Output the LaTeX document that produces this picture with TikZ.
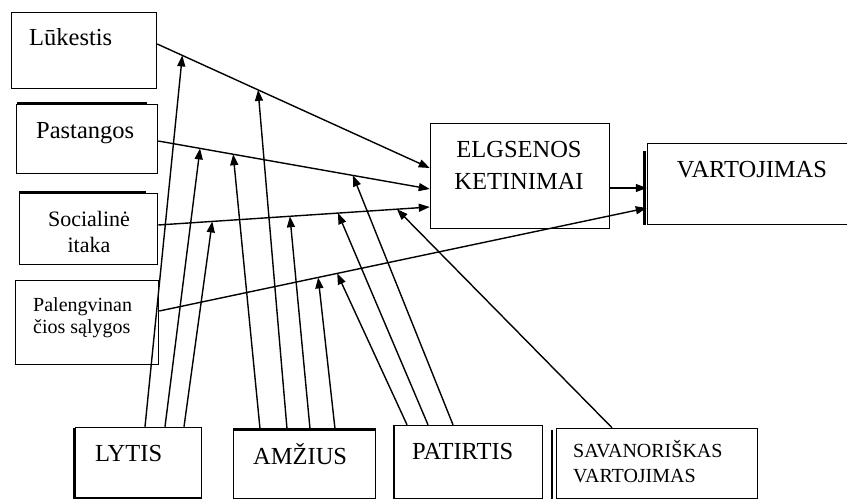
\documentclass[tikz,border=0pt]{standalone}
\usepackage{fontspec}
\setmainfont{Liberation Serif}
\usetikzlibrary{arrows.meta,calc}
\begin{document}
\begin{tikzpicture}[x=1pt,y=-1pt,
  box/.style 2 args={draw, line width=1.5pt, inner sep=0pt, minimum width=#1, minimum height=#2},
  shade/.style={line width=2.6pt},
  arr/.style={line width=1.4pt, -{Triangle[length=11pt,width=8pt]}},
  big/.style={font=\fontsize{24.5}{28}\selectfont, inner sep=0pt},
  mid/.style={font=\fontsize{22}{26}\selectfont, inner sep=0pt},
  small/.style={font=\fontsize{20}{24}\selectfont, inner sep=0pt}
]
\useasboundingbox (0,0) rectangle (847,499);

% factor boxes on the left
\node[box={145pt}{76pt}] (luk) at (84,50.5) {};
\node[box={141pt}{69pt}] (pas) at (87,139) {};
\node[box={138pt}{71pt}] (soc) at (88.5,229) {};
\node[box={143pt}{84pt}] (pal) at (87,322.5) {};
% intention and use
\node[box={179pt}{105pt}] (elg) at (520,176) {};
\node[box={209pt}{81pt}] (vart) at (752,184) {};
% moderators along the bottom
\node[box={126pt}{70pt}] (lyt) at (138.5,462.5) {};
\node[box={142pt}{69pt}] (amz) at (304.5,464) {};
\node[box={149pt}{73pt}] (pat) at (468,462) {};
\node[box={201pt}{70pt}] (sav) at (657,463.5) {};

% heavier edges drawn next to some boxes
\draw[shade] (17,103) -- (147,103);
\draw[shade] (19,192.2) -- (146,192.2);
\draw[line width=3.5pt] (644.5,151) -- (644.5,225);
\draw[shade] (74,428) -- (74,499);
\draw[shade] (75,498) -- (202,498);
\draw[shade] (233,429.5) -- (376,429.5);
\draw[shade] (394,426) -- (394,499);
\draw[shade] (552,430) -- (552,499);

% labels
\node[big, anchor=base west] (tluk) at (29,45) {Lūkestis};
\node[big, anchor=base west] (tpas) at (36,138) {Pastangos};
\node[mid, anchor=base] (tsoc1) at (89,226) {Socialinė};
\node[mid, anchor=base] (tsoc2) at (89,252) {itaka};
\node[small, anchor=base west] (tpal1) at (33,311) {Palengvinan};
\node[small, anchor=base west] (tpal2) at (33,333) {čios sąlygos};
\node[big, anchor=base] (telg1) at (519,157) {ELGSENOS};
\node[big, anchor=base] (telg2) at (519,189) {KETINIMAI};
\node[big, anchor=base] (tvart) at (752,177) {VARTOJIMAS};
\node[big, anchor=base west] (tlyt) at (95,461) {LYTIS};
\node[big, anchor=base west] (tamz) at (253,464) {AMŽIUS};
\node[big, anchor=base west] (tpat) at (412,459) {PATIRTIS};
\node[small, anchor=base west] (tsav1) at (573,457) {SAVANORIŠKAS};
\node[small, anchor=base west] (tsav2) at (573,482) {VARTOJIMAS};

% end points of the main paths
\coordinate (lukS) at ([yshift=6.5pt]luk.east);
\coordinate (lukE) at ([yshift=8pt]elg.west);
\coordinate (pasS) at ([yshift=-2pt]pas.east);
\coordinate (pasE) at ([yshift=-13pt]elg.west);
\coordinate (socS) at ([yshift=4pt]soc.east);
\coordinate (socE) at ([yshift=-31pt]elg.west);
\coordinate (palS) at ([yshift=11.5pt]pal.east);
\coordinate (palE) at ([yshift=-24pt]vart.west);

% main paths
\draw[arr] (lukS) -- (lukE);
\draw[arr] (pasS) -- (pasE);
\draw[arr] (socS) -- (socE);
\draw[arr] (palS) -- (palE);
\draw[arr] ([yshift=-12pt]elg.east) -- ([yshift=-12pt]elg.east -| vart.west);

% moderating effects
\draw[arr] ([xshift=6.5pt]lyt.north)  -- ($(lukS)!0.092!(lukE)$);
\draw[arr] ([xshift=26.5pt]lyt.north) -- ($(pasS)!0.154!(pasE)$);
\draw[arr] ([xshift=45.5pt]lyt.north) -- ($(socS)!0.199!(socE)$);

\draw[arr] ([xshift=-17.5pt]amz.north) -- ($(lukS)!0.37!(lukE)$);
\draw[arr] ([xshift=-44.5pt]amz.north) -- ($(pasS)!0.276!(pasE)$);
\draw[arr] ([xshift=5.5pt]amz.north)   -- ($(socS)!0.485!(socE)$);
\draw[arr] ([xshift=30.5pt]amz.north)  -- ($(palS)!0.326!(palE)$);

\draw[arr] ([xshift=-15pt]pat.north) -- ($(pasS)!0.717!(pasE)$);
\draw[arr] ([xshift=-40pt]pat.north) -- ($(socS)!0.662!(socE)$);
\draw[arr] ([xshift=-61pt]pat.north) -- ($(palS)!0.365!(palE)$);

\draw[arr] ([xshift=-45pt]sav.north) -- ($(socS)!0.879!(socE)$);
\end{tikzpicture}
\end{document}
